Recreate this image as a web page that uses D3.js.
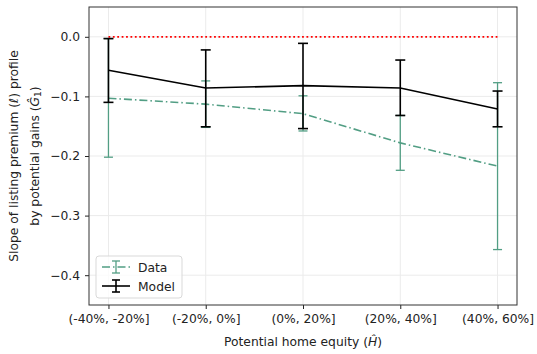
<!DOCTYPE html>
<html>
<head>
<meta charset="utf-8">
<script src="https://cdn.jsdelivr.net/npm/d3@7"></script>
<style>
  body { margin: 0; background: #fff; }
  svg { font-family: "DejaVu Sans", sans-serif; }
</style>
</head>
<body>
<svg id="chart" width="537" height="354"></svg>
<script>
// Equity bins
const categories = ["(-40%, -20%]", "(-20%, 0%]", "(0%, 20%]", "(20%, 40%]", "(40%, 60%]"];
// Empirical estimates with error bounds
const dataMean = [-0.103, -0.113, -0.129, -0.178, -0.217];
const dataLow  = [-0.202, -0.152, -0.158, -0.224, -0.357];
const dataHigh = [-0.003, -0.074, -0.099, -0.132, -0.077];
// Model-implied estimates with error bounds
const modelMean = [-0.056, -0.086, -0.082, -0.086, -0.121];
const modelLow  = [-0.110, -0.151, -0.154, -0.132, -0.151];
const modelHigh = [-0.003, -0.022, -0.011, -0.039, -0.091];
const yTicks = [0.0, -0.1, -0.2, -0.3, -0.4];

const svg = d3.select("#chart");
const margin = {left: 89, right: 20, top: 7, bottom: 49};
const W = 537, H = 354;
const FS = 12.3;
const x = d3.scaleLinear().domain([-0.2, 4.2]).range([margin.left, W - margin.right]);
const y = d3.scaleLinear().domain([-0.45, 0.05]).range([H - margin.bottom, margin.top]);

const green = "#529e84";

// grid
const grid = svg.append("g");
grid.selectAll("line.gx").data(categories).join("line")
  .attr("x1", (d, i) => x(i)).attr("x2", (d, i) => x(i))
  .attr("y1", y(0.05)).attr("y2", y(-0.45))
  .attr("stroke", "#ebebeb").attr("stroke-width", 1);
grid.selectAll("line.gy").data(yTicks).join("line")
  .attr("x1", x(-0.2)).attr("x2", x(4.2))
  .attr("y1", d => y(d)).attr("y2", d => y(d))
  .attr("stroke", "#ebebeb").attr("stroke-width", 1);

// zero reference
svg.append("line")
  .attr("x1", x(0)).attr("x2", x(4)).attr("y1", y(0)).attr("y2", y(0))
  .attr("stroke", "red").attr("stroke-width", 1.8).attr("stroke-dasharray", "1.8,2.6");

function errorSeries(mean, low, high, color, lw, dash, capW, elw) {
  const g = svg.append("g");
  g.append("path")
    .datum(mean)
    .attr("d", d3.line().x((d, i) => x(i)).y(d => y(d)))
    .attr("fill", "none").attr("stroke", color).attr("stroke-width", lw)
    .attr("stroke-dasharray", dash);
  mean.forEach((m, i) => {
    g.append("line").attr("x1", x(i)).attr("x2", x(i))
      .attr("y1", y(low[i])).attr("y2", y(high[i]))
      .attr("stroke", color).attr("stroke-width", elw);
    [low[i], high[i]].forEach(v => {
      g.append("line").attr("x1", x(i) - capW).attr("x2", x(i) + capW)
        .attr("y1", y(v)).attr("y2", y(v))
        .attr("stroke", color).attr("stroke-width", elw);
    });
  });
}
errorSeries(dataMean, dataLow, dataHigh, green, 1.6, "8,3,1.5,3", 4.5, 1.3);
errorSeries(modelMean, modelLow, modelHigh, "#000", 1.6, null, 5, 1.6);

// axes
const xAxis = d3.axisBottom(x).tickValues([0, 1, 2, 3, 4])
  .tickFormat(i => categories[i]).tickSize(4).tickPadding(5);
const gx = svg.append("g").attr("transform", `translate(0,${H - margin.bottom})`).call(xAxis);
const yAxis = d3.axisLeft(y).tickValues(yTicks)
  .tickFormat(d => d3.format(".1f")(d).replace("-", "\u2212")).tickSize(4).tickPadding(5);
const gy = svg.append("g").attr("transform", `translate(${margin.left},0)`).call(yAxis);
[gx, gy].forEach(g => {
  g.select(".domain").remove();
  g.selectAll("text").attr("font-size", FS).attr("fill", "#222").attr("font-family", "DejaVu Sans");
  g.selectAll("line").attr("stroke", "#222");
});

// frame
svg.append("rect")
  .attr("x", margin.left).attr("y", margin.top)
  .attr("width", W - margin.left - margin.right).attr("height", H - margin.top - margin.bottom)
  .attr("fill", "none").attr("stroke", "#333").attr("stroke-width", 1);

// axis titles
const xt = svg.append("text").attr("x", (margin.left + W - margin.right) / 2).attr("y", 346)
  .attr("text-anchor", "middle").attr("font-size", FS).attr("fill", "#222");
xt.append("tspan").text("Potential home equity (");
xt.append("tspan").attr("font-style", "italic").text("\u0124");
xt.append("tspan").text(")");

const yc = 156;
const yt1 = svg.append("text").attr("transform", `translate(18,${yc}) rotate(-90)`)
  .attr("text-anchor", "middle").attr("font-size", FS).attr("fill", "#222");
yt1.append("tspan").text("Slope of listing premium (");
yt1.append("tspan").attr("font-style", "italic").text("\u2113");
yt1.append("tspan").text(") profile");
const yt2 = svg.append("text").attr("transform", `translate(39,${yc}) rotate(-90)`)
  .attr("text-anchor", "middle").attr("font-size", FS).attr("fill", "#222");
yt2.append("tspan").text("by potential gains (");
yt2.append("tspan").attr("font-style", "italic").text("\u011C");
yt2.append("tspan").attr("font-size", 9).attr("dy", 2).text("1");
yt2.append("tspan").attr("dy", -2).text(")");

// legend
const lg = svg.append("g").attr("transform", "translate(96,256)");
lg.append("rect").attr("width", 86).attr("height", 42).attr("rx", 3)
  .attr("fill", "rgba(255,255,255,0.8)").attr("stroke", "#d9d9d9");
const items = [
  {label: "Data", color: green, dash: "8,3,1.5,3", elw: 1.3},
  {label: "Model", color: "#000", dash: null, elw: 1.6}
];
items.forEach((it, k) => {
  const cy = 11 + k * 19;
  const g = lg.append("g").attr("transform", `translate(0,${cy})`);
  g.append("line").attr("x1", 6).attr("x2", 34).attr("y1", 0).attr("y2", 0)
    .attr("stroke", it.color).attr("stroke-width", 1.6).attr("stroke-dasharray", it.dash);
  g.append("line").attr("x1", 20).attr("x2", 20).attr("y1", -6).attr("y2", 6)
    .attr("stroke", it.color).attr("stroke-width", it.elw);
  [-6, 6].forEach(v => g.append("line").attr("x1", 16).attr("x2", 24).attr("y1", v).attr("y2", v)
    .attr("stroke", it.color).attr("stroke-width", it.elw));
  g.append("text").attr("x", 42).attr("y", 4.5).attr("font-size", FS).attr("fill", "#222").text(it.label);
});
</script>
</body>
</html>
